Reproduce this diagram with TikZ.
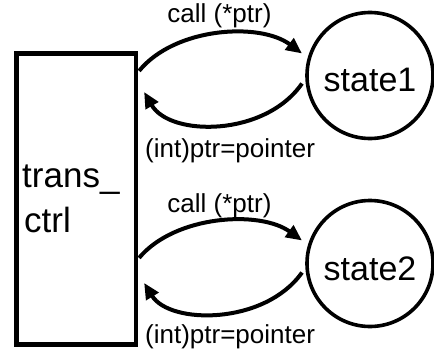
\documentclass[tikz,border=0pt]{standalone}
\usepackage{fontspec}
\setmainfont{Liberation Sans}
\usetikzlibrary{arrows.meta,calc}
\begin{document}
\begin{tikzpicture}[x=1pt,y=-1pt,
  box/.style={draw,line width=4.2pt,minimum width=119.5pt,minimum height=291pt,inner sep=0pt},
  statenode/.style={circle,draw,line width=3.6pt,minimum size=126pt,inner sep=0pt,text height=33pt,text depth=0pt,font=\fontsize{34}{40}\selectfont},
  conn/.style={line width=4pt,-{Triangle[length=16pt,width=14pt]}},
  lbl/.style={font=\fontsize{26}{30}\selectfont,inner sep=0pt},
  ctrltext/.style={font=\fontsize{35}{42}\selectfont,inner sep=0pt,anchor=base west}]
\useasboundingbox (0,0) rectangle (434,353);
\node[box] (ctrl) at (76.25,199) {};
\node[ctrltext] (t1) at (22,187) {trans\_};
\node[ctrltext] (t2) at (24,232) {ctrl};
\node[statenode] (s1) at (370,75.5) {state1};
\node[statenode] (s2) at (370,263.5) {state2};
% pair 1
\draw[conn] ($(ctrl.north east)+(1,19.5)$) .. controls (175,27) and (260,22) .. ($(s1.center)+(-68,-22)$);
\draw[conn] ($(s1.center)+(-68,8)$) .. controls (265,137) and (170,137) .. ($(ctrl.north east)+(6,40.5)$);
\node[lbl,anchor=base] (c1) at (219.5,23) {call (*ptr)};
\node[lbl,anchor=base west] (p1) at (145,157) {(int)ptr=pointer};
% pair 2
\draw[conn] ($(ctrl.north east)+(1,206.5)$) .. controls (175,215) and (260,210) .. ($(s2.center)+(-68,-23)$);
\draw[conn] ($(s2.center)+(-68,9)$) .. controls (265,325) and (170,325) .. ($(ctrl.north east)+(6,231.5)$);
\node[lbl,anchor=base] (c2) at (219.5,212) {call (*ptr)};
\node[lbl,anchor=base west] (p2) at (145,343) {(int)ptr=pointer};
\end{tikzpicture}
\end{document}
